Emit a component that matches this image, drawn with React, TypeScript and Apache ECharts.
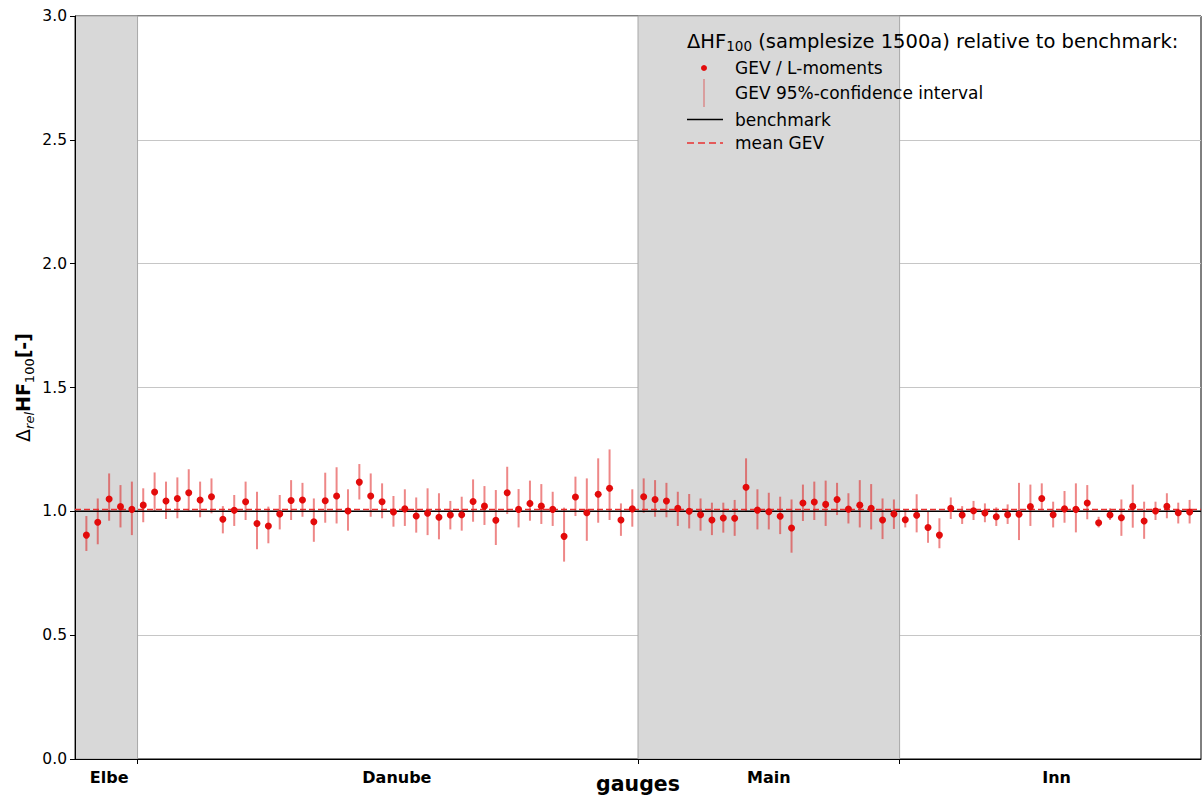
import React, { useEffect, useRef } from "react";
import * as echarts from "echarts";

// ---- data ----
const rivers = ["Elbe", "Danube", "Main", "Inn"];
const riverLabelPos = [2, 27.3, 60, 85.3];
const riverBoundaries = [4.5, 48.5, 71.5];
const shadedSpans: [number, number][] = [[-1, 4.5], [48.5, 71.5]];

const gevValue = [
  0.904, 0.956, 1.050, 1.019, 1.008,
  1.025, 1.078, 1.042, 1.052, 1.075, 1.046, 1.059, 0.968, 1.004, 1.039,
  0.951, 0.941, 0.989, 1.044, 1.046, 0.958, 1.043, 1.062, 1.001, 1.118,
  1.062, 1.039, 0.997, 1.010, 0.981, 0.992, 0.976, 0.985, 0.986, 1.040,
  1.021, 0.964, 1.075, 1.008, 1.032, 1.021, 1.008, 0.899, 1.058, 0.994,
  1.069, 1.093, 0.965, 1.010,
  1.059, 1.048, 1.042, 1.012, 1.000, 0.986, 0.965, 0.973, 0.972, 1.097,
  1.005, 0.998, 0.980, 0.933, 1.034, 1.038, 1.028, 1.048, 1.009, 1.025,
  1.012, 0.965, 0.989,
  0.966, 0.984, 0.935, 0.904, 1.012, 0.985, 1.002, 0.993, 0.978, 0.986,
  0.988, 1.019, 1.052, 0.986, 1.010, 1.008, 1.034, 0.954, 0.985, 0.974,
  1.020, 0.961, 1.001, 1.020, 0.994, 0.997,
];
const ciLow = [
  0.840, 0.867, 0.962, 0.935, 0.904,
  0.956, 0.998, 0.969, 0.972, 1.002, 0.976, 0.992, 0.911, 0.941, 0.965,
  0.847, 0.871, 0.927, 0.965, 0.978, 0.877, 0.954, 0.951, 0.922, 1.048,
  0.978, 0.972, 0.938, 0.941, 0.914, 0.904, 0.887, 0.927, 0.922, 0.958,
  0.945, 0.864, 0.989, 0.935, 0.962, 0.949, 0.941, 0.797, 0.981, 0.881,
  0.954, 0.965, 0.901, 0.938,
  0.994, 0.978, 0.976, 0.941, 0.931, 0.922, 0.904, 0.914, 0.901, 0.998,
  0.927, 0.927, 0.908, 0.833, 0.961, 0.965, 0.941, 0.985, 0.951, 0.935,
  0.927, 0.888, 0.929,
  0.935, 0.915, 0.873, 0.851, 0.969, 0.949, 0.965, 0.956, 0.941, 0.949,
  0.884, 0.941, 1.005, 0.935, 0.954, 0.915, 0.968, 0.935, 0.965, 0.901,
  0.934, 0.889, 0.965, 0.972, 0.951, 0.951,
];
const ciHigh = [
  0.981, 1.052, 1.153, 1.106, 1.120,
  1.093, 1.157, 1.120, 1.137, 1.170, 1.120, 1.133, 1.021, 1.066, 1.120,
  1.079, 1.019, 1.066, 1.126, 1.115, 1.052, 1.156, 1.178, 1.089, 1.191,
  1.153, 1.113, 1.062, 1.089, 1.056, 1.093, 1.073, 1.042, 1.059, 1.129,
  1.102, 1.086, 1.180, 1.090, 1.124, 1.110, 1.079, 1.015, 1.140, 1.133,
  1.214, 1.250, 1.032, 1.089,
  1.133, 1.126, 1.115, 1.079, 1.070, 1.052, 1.035, 1.035, 1.046, 1.214,
  1.089, 1.075, 1.059, 1.048, 1.108, 1.120, 1.124, 1.115, 1.073, 1.126,
  1.110, 1.052, 1.048,
  1.005, 1.069, 0.998, 0.972, 1.056, 1.021, 1.042, 1.032, 1.016, 1.028,
  1.115, 1.108, 1.113, 1.039, 1.082, 1.113, 1.106, 0.978, 1.012, 1.048,
  1.108, 1.039, 1.039, 1.073, 1.035, 1.046,
];
const benchmarkValue = 1.0;
const yTicks = [0, 0.5, 1.0, 1.5, 2.0, 2.5, 3.0];
const legendLabels = ["GEV / L-moments", "GEV 95%-confidence interval", "benchmark", "mean GEV"];

const FONT = "DejaVu Sans";

export default function App() {
  const ref = useRef<HTMLDivElement>(null);
  useEffect(() => {
    document.body.style.margin = "0";
    const chart = echarts.init(ref.current!, null, { renderer: "svg" });
    const n = gevValue.length;
    const xMin = -1;
    const xMax = n;
    const meanGev = gevValue.reduce((a, b) => a + b, 0) / n;
    const points = gevValue.map((v, i) => [i, v]);
    const bars = gevValue.map((_, i) => [i, ciLow[i], ciHigh[i]]);
    const legendY = [68, 93, 119.5, 143];
    const ZL = 200;

    const option: any = {
      animation: false,
      backgroundColor: "#fff",
      grid: {
        left: 75,
        right: 2,
        top: 16,
        bottom: 37,
        containLabel: false,
        outerBoundsMode: "none",
        show: true,
        borderColor: "#000",
        borderWidth: 1,
        backgroundColor: "transparent",
      },
      xAxis: {
        type: "value",
        min: xMin,
        max: xMax,
        z: 1,
        splitLine: { show: false },
        axisLine: { show: true, onZero: false, lineStyle: { color: "#000", width: 1 } },
        axisTick: {
          show: true,
          length: 5,
          customValues: riverBoundaries,
          lineStyle: { color: "#000" },
        },
        axisLabel: {
          customValues: riverLabelPos,
          formatter: (v: number) => {
            const k = riverLabelPos.findIndex((p) => Math.abs(p - v) < 1e-6);
            return k >= 0 ? rivers[k] : "";
          },
          fontFamily: FONT,
          fontWeight: "bold",
          fontSize: 16,
          color: "#000",
          margin: 10,
        },
        name: "gauges",
        nameLocation: "middle",
        nameGap: 14,
        nameMoveOverlap: false,
        nameTextStyle: {
          fontFamily: FONT,
          fontWeight: "bold",
          fontSize: 20.5,
          color: "#000",
        },
      },
      yAxis: {
        type: "value",
        min: 0,
        max: 3,
        interval: 0.5,
        z: 1,
        axisLine: { show: true, onZero: false, lineStyle: { color: "#000", width: 1 } },
        axisTick: { show: true, length: 5, lineStyle: { color: "#000" } },
        axisLabel: {
          formatter: (v: number) => (yTicks.includes(v) ? v.toFixed(1) : ""),
          fontFamily: FONT,
          fontSize: 15.5,
          color: "#000",
          margin: 8,
        },
        splitLine: { show: true, lineStyle: { color: "#c6c6c6", width: 1 } },
        name: "{d|Δ}{s|rel}{b|HF}{n|100}{b|[-]}",
        nameLocation: "middle",
        nameRotate: 90,
        nameGap: 39,
        nameMoveOverlap: false,
        nameTextStyle: {
          rich: {
            d: { fontFamily: FONT, fontSize: 19, color: "#000", lineHeight: 26, verticalAlign: "middle" },
            s: { fontFamily: FONT, fontSize: 13, fontStyle: "italic", color: "#000", lineHeight: 14, verticalAlign: "bottom" },
            b: { fontFamily: FONT, fontSize: 19, fontWeight: "bold", color: "#000", lineHeight: 26, verticalAlign: "middle" },
            n: { fontFamily: FONT, fontSize: 13, color: "#000", lineHeight: 14, verticalAlign: "bottom" },
          },
        },
      },
      series: [
        {
          name: "shading",
          type: "line",
          data: [],
          z: 0,
          silent: true,
          markArea: {
            silent: true,
            itemStyle: { color: "#d8d8d8", borderColor: "#a8a8a8", borderWidth: 1 },
            data: shadedSpans.map(([a, b]) => [{ xAxis: a }, { xAxis: b }]),
          },
        },
        {
          name: "GEV 95%-confidence interval",
          type: "custom",
          z: 3,
          data: bars,
          encode: { x: 0, y: [1, 2] },
          renderItem: (params: any, api: any) => {
            const x = api.value(0);
            const p1 = api.coord([x, api.value(1)]);
            const p2 = api.coord([x, api.value(2)]);
            return {
              type: "line",
              shape: { x1: p1[0], y1: p1[1], x2: p2[0], y2: p2[1] },
              style: { stroke: "rgba(222,25,25,0.52)", lineWidth: 2 },
            };
          },
        },
        {
          name: "benchmark",
          type: "line",
          z: 4,
          symbol: "none",
          data: [[xMin, benchmarkValue], [xMax, benchmarkValue]],
          lineStyle: { color: "#000", width: 1.5 },
        },
        {
          name: "mean GEV",
          type: "line",
          z: 5,
          symbol: "none",
          data: [[xMin, meanGev], [xMax, meanGev]],
          lineStyle: { color: "#e83030", width: 1.5, type: [6, 3] },
        },
        {
          name: "GEV / L-moments",
          type: "scatter",
          z: 6,
          symbol: "circle",
          symbolSize: 7,
          data: points,
          itemStyle: { color: "#e30b0b", opacity: 1 },
        },
      ],
      graphic: [
        {
          type: "text",
          x: 687,
          y: 41,
          z: ZL,
          style: {
            text: "{a|ΔHF}{s|100}{a| (samplesize 1500a) relative to benchmark:}",
            verticalAlign: "middle",
            rich: {
              a: { fontFamily: FONT, fontSize: 19.5, fill: "#000", lineHeight: 24, verticalAlign: "middle" },
              s: { fontFamily: FONT, fontSize: 13.5, fill: "#000", lineHeight: 14, verticalAlign: "bottom" },
            },
          },
        },
        { type: "circle", z: ZL, shape: { cx: 704, cy: 68, r: 3 }, style: { fill: "#e30b0b" } },
        {
          type: "line",
          z: ZL,
          shape: { x1: 704, y1: 79, x2: 704, y2: 107 },
          style: { stroke: "rgba(222,25,25,0.5)", lineWidth: 1.2 },
        },
        {
          type: "line",
          z: ZL,
          shape: { x1: 687, y1: 119.5, x2: 723, y2: 119.5 },
          style: { stroke: "#000", lineWidth: 1.5 },
        },
        {
          type: "line",
          z: ZL,
          shape: { x1: 687, y1: 143, x2: 723, y2: 143 },
          style: { stroke: "#e83030", lineWidth: 1.5, lineDash: [7, 4] },
        },
        ...legendLabels.map((t, i) => ({
          type: "text",
          x: 735,
          y: legendY[i],
          z: ZL,
          style: {
            text: t,
            fontFamily: FONT,
            fontSize: 17,
            fill: "#000",
            verticalAlign: "middle",
          },
        })),
      ],
    };
    chart.setOption(option);
    return () => chart.dispose();
  }, []);
  return (
    <div
      ref={ref}
      style={{ position: "absolute", left: 0, top: 0, width: 1203, height: 796 }}
    />
  );
}
